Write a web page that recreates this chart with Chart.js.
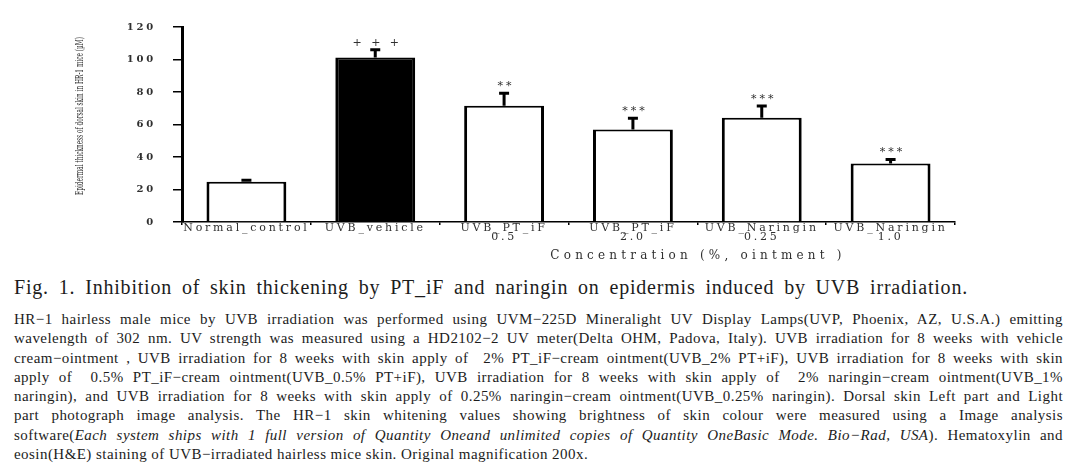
<!DOCTYPE html>
<html lang="en">
<head>
  <meta charset="UTF-8">
  <title>Fig. 1</title>
  <style>
    html, body { margin: 0; padding: 0; background: #fff; }
    body { width: 1090px; height: 474px; position: relative; overflow: hidden; }
    .chartBox { position: absolute; left: 0; top: 0; width: 1090px; height: 265px; }
    #caption { font-family: 'Liberation Serif', 'DejaVu Serif', serif; color: #1c1c1c; }
    .fig { position: absolute; left: 14px; top: 275px; width: 954px; font-size: 20px; line-height: 24px;
           letter-spacing: 0.8px; text-align: justify; text-align-last: justify; }
    .body { position: absolute; left: 14px; top: 310px; width: 1049px; font-size: 15px; line-height: 19.3px;
            letter-spacing: 0.45px; }
    .body div { text-align: justify; text-align-last: justify; }
    .body div.last { text-align-last: left; }
  </style>
</head>
<body>
  <div class="chartBox">
    <canvas id="myChart"></canvas>
  </div>
  <div id="caption">
    <div class="fig">Fig. 1. Inhibition of skin thickening by PT_iF and naringin on epidermis induced by UVB irradiation.</div>
    <div class="body">
      <div>HR−1 hairless male mice by UVB irradiation was performed using UVM−225D Mineralight UV Display Lamps(UVP, Phoenix, AZ, U.S.A.) emitting</div>
      <div>wavelength of 302 nm. UV strength was measured using a HD2102−2 UV meter(Delta OHM, Padova, Italy). UVB irradiation for 8 weeks with vehicle</div>
      <div>cream−ointment , UVB irradiation for 8 weeks with skin apply of &nbsp;2% PT_iF−cream ointment(UVB_2% PT+iF), UVB irradiation for 8 weeks with skin</div>
      <div>apply of &nbsp;0.5% PT_iF−cream ointment(UVB_0.5% PT+iF), UVB irradiation for 8 weeks with skin apply of &nbsp;2% naringin−cream ointment(UVB_1%</div>
      <div>naringin), and UVB irradiation for 8 weeks with skin apply of 0.25% naringin−cream ointment(UVB_0.25% naringin). Dorsal skin Left part and Light</div>
      <div>part photograph image analysis. The HR−1 skin whitening values showing brightness of skin colour were measured using a Image analysis</div>
      <div>software(<i>Each system ships with 1 full version of Quantity Oneand unlimited copies of Quantity OneBasic Mode. Bio−Rad, USA</i>). Hematoxylin and</div>
      <div class="last">eosin(H&amp;E) staining of UVB−irradiated hairless mice skin. Original magnification 200x.</div>
    </div>
  </div>

  <script src="https://cdn.jsdelivr.net/npm/chart.js"></script>
  <script>
    // data
    const groups = [
      ['Normal_control'],
      ['UVB_vehicle'],
      ['UVB_PT_iF', '0.5'],
      ['UVB_PT_iF', '2.0'],
      ['UVB_Naringin', '0.25'],
      ['UVB_Naringin', '1.0']
    ];
    const thickness = [24.7, 101.2, 71.6, 57.0, 64.2, 36.0];
    const sem = [1.0, 4.8, 7.7, 6.8, 7.2, 2.5];
    const marks = ['', '+ + +', '**', '***', '***', '***'];
    const yTicks = [0, 20, 40, 60, 80, 100, 120];
    const yTitle = 'Epidermal thickness of dorsal skin in HR-1 mice (μM)';
    const xTitle = 'Concentration (%, ointment )';

    const serif = "'DejaVu Serif', serif";
    const txt = '#303030';

    // wide letter spacing for the tick text, like the original figure
    const spacing = {
      id: 'spacing',
      beforeDraw(chart) {
        chart.ctx.letterSpacing = '2.8px';
      }
    };

    // error bars, significance marks and the two axis titles
    const extras = {
      id: 'extras',
      afterDatasetsDraw(chart) {
        const ctx = chart.ctx;
        const y = chart.scales.y;
        const bars = chart.getDatasetMeta(0).data;
        ctx.save();
        ctx.strokeStyle = '#000';
        ctx.lineWidth = 3;
        bars.forEach((bar, i) => {
          const top = y.getPixelForValue(thickness[i] + sem[i]);
          ctx.beginPath();
          ctx.moveTo(bar.x, bar.y);
          ctx.lineTo(bar.x, top);
          ctx.moveTo(bar.x - 5, top);
          ctx.lineTo(bar.x + 5, top);
          ctx.stroke();
          if (marks[i]) {
            ctx.fillStyle = txt;
            ctx.font = '11px ' + serif;
            ctx.textAlign = 'center';
            ctx.textBaseline = 'alphabetic';
            ctx.letterSpacing = '3px';
            ctx.fillText(marks[i], bar.x + 2, top - 4);
          }
        });
        ctx.restore();
      },
      afterDraw(chart) {
        const ctx = chart.ctx;
        const area = chart.chartArea;
        ctx.save();
        ctx.fillStyle = txt;
        // x title
        ctx.font = '12px ' + serif;
        ctx.letterSpacing = '4.2px';
        ctx.textAlign = 'center';
        ctx.textBaseline = 'middle';
        ctx.fillText(xTitle, 698, area.bottom + 34);
        // y title, condensed
        ctx.letterSpacing = '0px';
        ctx.font = '10.5px ' + serif;
        const w = ctx.measureText(yTitle).width;
        ctx.translate(80, 116);
        ctx.rotate(-Math.PI / 2);
        ctx.scale(158 / w, 1);
        ctx.fillText(yTitle, 0, 0);
        ctx.restore();
      }
    };

    const data = {
      labels: groups,
      datasets: [{
        data: thickness,
        backgroundColor: ['#fff', '#000', '#fff', '#fff', '#fff', '#fff'],
        borderColor: '#000',
        borderWidth: { left: 3, right: 3, top: 2, bottom: 0 },
        borderSkipped: 'start',
        barPercentage: 0.62,
        categoryPercentage: 1
      }]
    };

    const config = {
      type: 'bar',
      data,
      plugins: [spacing, extras],
      options: {
        responsive: true,
        maintainAspectRatio: false,
        animation: false,
        layout: { padding: { left: 70, right: 135, top: 27, bottom: 0 } },
        plugins: {
          legend: { display: false },
          tooltip: { enabled: false }
        },
        scales: {
          x: {
            afterFit(scale) { scale.height = 43; },
            grid: { drawOnChartArea: false, offset: true, tickLength: 3, color: '#000', lineWidth: 1.5 },
            border: { color: '#000', width: 1.5 },
            ticks: {
              color: txt,
              autoSkip: false,
              maxRotation: 0,
              padding: -1,
              font: { family: serif, size: 11, lineHeight: 0.78 }
            }
          },
          y: {
            min: 0,
            max: 120,
            afterFit(scale) { scale.width = 112; },
            afterBuildTicks(scale) { scale.ticks = yTicks.map(v => ({ value: v })); },
            grid: { drawOnChartArea: false, tickLength: 9, color: '#000', lineWidth: 1.5 },
            border: { color: '#000', width: 3 },
            ticks: {
              color: txt,
              padding: 17,
              font: { family: serif, size: 10, weight: 'bold' }
            }
          }
        }
      }
    };

    const myChart = new Chart(document.getElementById('myChart'), config);
  </script>
</body>
</html>
